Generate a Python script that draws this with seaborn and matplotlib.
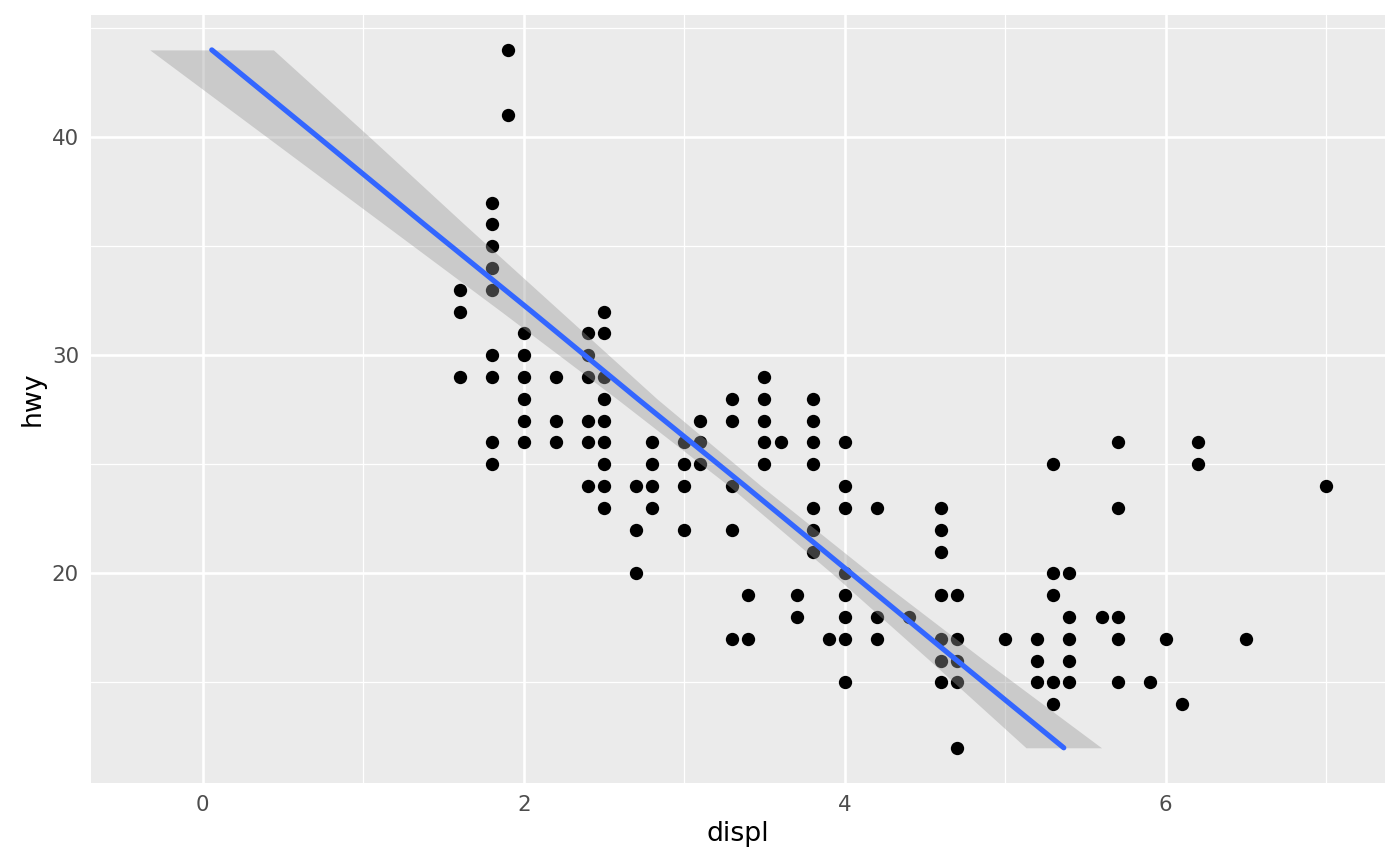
import numpy as np
import pandas as pd
import matplotlib
matplotlib.use("Agg")
import matplotlib.pyplot as plt
import seaborn as sns

# points: engine displacement column -> list of highway mpg values
displ_cols = {
    1.6: [33, 32, 29],
    1.8: [37, 36, 35, 34, 33, 30, 29, 26, 25],
    1.9: [44, 41],
    2.0: [31, 30, 29, 28, 27, 26],
    2.2: [29, 27, 26],
    2.4: [31, 30, 29, 27, 26, 24],
    2.5: [32, 31, 29, 28, 27, 26, 25, 24, 23],
    2.7: [24, 22, 20],
    2.8: [26, 25, 24, 23],
    3.0: [26, 25, 24, 22],
    3.1: [27, 26, 25],
    3.3: [28, 27, 24, 22, 17],
    3.4: [19, 17],
    3.5: [29, 28, 27, 26, 25],
    3.6: [26],
    3.7: [19, 18],
    3.8: [28, 27, 26, 25, 23, 22, 21],
    3.9: [17],
    4.0: [26, 24, 23, 20, 19, 18, 17, 15],
    4.2: [23, 18, 17],
    4.4: [18],
    4.6: [23, 22, 21, 19, 17, 16, 15],
    4.7: [19, 17, 16, 15, 12],
    5.0: [17],
    5.2: [17, 16, 15],
    5.3: [25, 20, 19, 15, 14],
    5.4: [20, 18, 17, 16, 15],
    5.6: [18],
    5.7: [26, 23, 18, 17, 15],
    5.9: [15],
    6.0: [17],
    6.1: [14],
    6.2: [26, 25],
    6.5: [17],
    7.0: [24],
}

# fitted line (displ ~ hwy, horizontal orientation) and its confidence band
fit_hwy = [12, 16, 20, 24, 28, 32, 36, 40, 44]
fit_displ = [5.365, 4.70, 4.04, 3.38, 2.71, 2.05, 1.38, 0.72, 0.056]
fit_lo = [5.13, 4.53, 3.92, 3.28, 2.58, 1.86, 1.13, 0.40, -0.33]
fit_hi = [5.60, 4.87, 4.16, 3.48, 2.83, 2.23, 1.63, 1.04, 0.44]

rows = [(d, h) for d, hs in displ_cols.items() for h in hs]
mpg = pd.DataFrame(rows, columns=["displ", "hwy"])

sns.set_style("darkgrid")
plt.rcParams["font.family"] = ["DejaVu Sans"]

fig = plt.figure(figsize=(1400 / 175, 866 / 175), dpi=175)
ax = fig.add_axes([91 / 1400, 1 - 782.7 / 866, (1385 - 91) / 1400, (782.7 - 15) / 866])
ax.set_facecolor("#EBEBEB")

sns.scatterplot(data=mpg, x="displ", y="hwy", ax=ax, color="black", s=30, linewidth=0, zorder=3)
ax.fill_betweenx(fit_hwy, fit_lo, fit_hi, color="#999999", alpha=0.4, linewidth=0, zorder=4)
sns.lineplot(x=fit_displ, y=fit_hwy, orient="y", sort=False, ax=ax, color="#3366FF", linewidth=2.13, zorder=5)

# ggplot style expansion of 5%
xmin, xmax = min(fit_lo + list(mpg["displ"])), max(fit_hi + list(mpg["displ"]))
ymin, ymax = min(mpg["hwy"]), max(mpg["hwy"])
ax.set_xlim(xmin - 0.05 * (xmax - xmin), xmax + 0.05 * (xmax - xmin))
ax.set_ylim(ymin - 0.05 * (ymax - ymin), ymax + 0.05 * (ymax - ymin))

ax.set_xticks([0, 2, 4, 6])
ax.set_yticks([20, 30, 40])
ax.set_xticks([1, 3, 5, 7], minor=True)
ax.set_yticks([15, 25, 35, 45], minor=True)
ax.grid(which="major", color="white", linewidth=1.07)
ax.grid(which="minor", color="white", linewidth=0.53)
ax.set_axisbelow(True)
for s in ax.spines.values():
    s.set_visible(False)

ax.tick_params(which="major", length=2.75, width=1.07, color="#333333",
               labelsize=8.8, labelcolor="#4D4D4D", pad=2.2)
ax.tick_params(which="minor", length=0)
ax.set_xlabel("displ", fontsize=11, color="black", labelpad=2.75)
ax.set_ylabel("hwy", fontsize=11, color="black", labelpad=2.75)
if ax.get_legend() is not None:
    ax.get_legend().remove()

fig.savefig("out.png", dpi=175, facecolor="white")
